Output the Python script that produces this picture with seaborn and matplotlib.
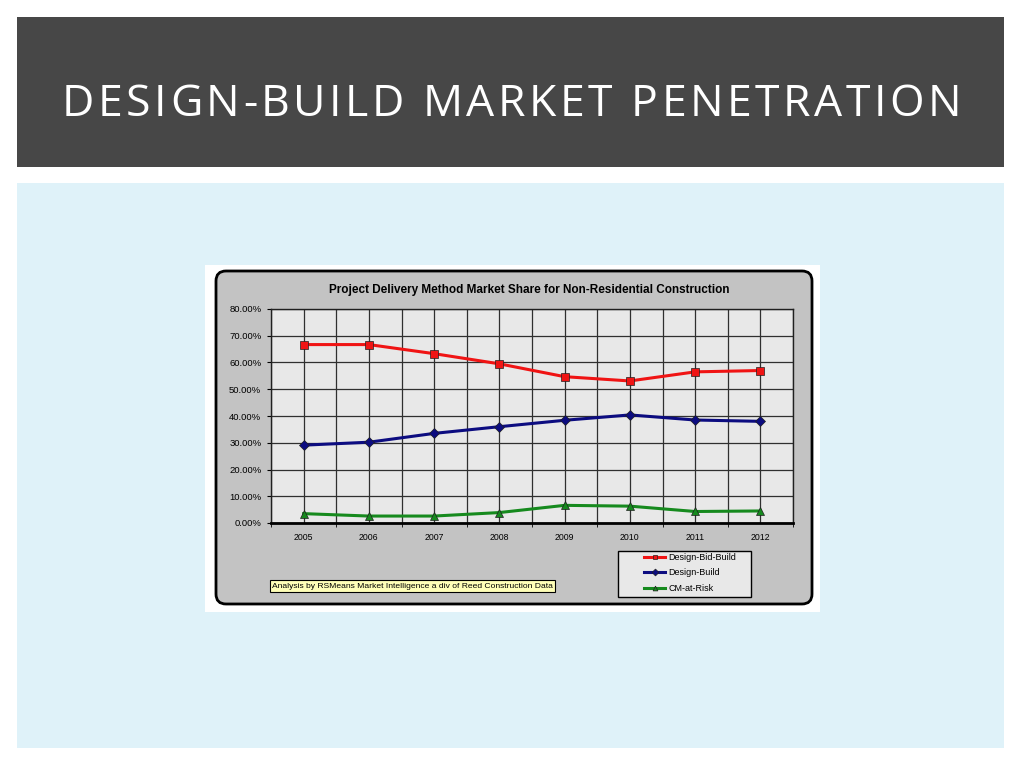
import matplotlib
matplotlib.use("Agg")
import matplotlib.pyplot as plt
from matplotlib.patches import Rectangle, FancyBboxPatch
from matplotlib.ticker import FuncFormatter
import seaborn as sns
import pandas as pd

# values
years = ["2005", "2006", "2007", "2008", "2009", "2010", "2011", "2012"]
design_bid_build = [66.7, 66.7, 63.3, 59.5, 54.7, 53.1, 56.5, 57.0]
design_build = [29.1, 30.2, 33.5, 36.0, 38.4, 40.4, 38.5, 38.0]
cm_at_risk = [3.5, 2.6, 2.6, 3.9, 6.6, 6.3, 4.3, 4.5]
methods = ["Design-Bid-Build", "Design-Build", "CM-at-Risk"]

df = pd.DataFrame({
    "Year": years * 3,
    "Share": design_bid_build + design_build + cm_at_risk,
    "Method": [m for m in methods for _ in years],
})

W, H = 1024, 768
fig = plt.figure(figsize=(10.24, 7.68), dpi=100)
fig.patch.set_facecolor("white")

# slide background drawn in pixel coordinates
bg = fig.add_axes([0, 0, 1, 1], zorder=0)
bg.set_xlim(0, W)
bg.set_ylim(H, 0)
bg.axis("off")
bg.add_patch(Rectangle((17, 17), 987, 150, facecolor="#474747", edgecolor="none"))
bg.add_patch(Rectangle((17, 183), 987, 565, facecolor="#dff2f9", edgecolor="none"))
bg.add_patch(Rectangle((205, 265), 615, 347, facecolor="white", edgecolor="none"))
bg.add_patch(FancyBboxPatch((216, 271), 596, 333,
                            boxstyle="round,pad=0,rounding_size=10",
                            facecolor="#c3c3c3", edgecolor="black", linewidth=2))


def tracked_title(s, left, right, baseline, **kw):
    # slide title with wide letter spacing: place glyphs one by one
    r = fig.canvas.get_renderer()

    def width(t):
        tt = bg.text(0, 0, t, **kw)
        w = tt.get_window_extent(r).width
        tt.remove()
        return w

    starts = []
    for i, ch in enumerate(s):
        starts.append(width(s[:i + 1]) - width(ch) if ch != " " else None)
    natural = width(s)
    track = (right - left - natural) / (len(s) - 1)
    for i, ch in enumerate(s):
        if ch == " ":
            continue
        bg.text(left + starts[i] + track * i, baseline, ch,
                ha="left", va="baseline", **kw)


tracked_title("DESIGN-BUILD MARKET PENETRATION", 62, 961, 116,
              color="white", fontsize=32, family="Open Sans")

# plot area
ax = fig.add_axes([271 / W, 1 - 523 / H, 522 / W, 214 / H], zorder=2)
ax.set_facecolor("#e8e8e8")

palette = {"Design-Bid-Build": "#f01414", "Design-Build": "#0c0c80", "CM-at-Risk": "#168a1e"}
markers = {"Design-Bid-Build": "s", "Design-Build": "D", "CM-at-Risk": "^"}
sns.lineplot(data=df, x="Year", y="Share", hue="Method", style="Method",
             palette=palette, markers=markers, dashes=False, linewidth=2.2,
             markersize=5.5, markeredgecolor="#202020", markeredgewidth=0.5,
             ax=ax, zorder=3)

ax.set_xlim(-0.5, len(years) - 0.5)
ax.set_ylim(0, 80)
ax.set_yticks(range(0, 81, 10))
ax.yaxis.set_major_formatter(FuncFormatter(lambda v, p: f"{v:.2f}%"))
ax.set_xticks(range(len(years)))
ax.set_xticklabels(years)
ax.set_xticks([i + 0.5 for i in range(-1, len(years))], minor=True)
ax.grid(True, which="major", color="#303030", linewidth=0.9, zorder=1)
ax.grid(True, which="minor", axis="x", color="#303030", linewidth=0.9, zorder=1)
ax.set_axisbelow(True)
ax.tick_params(axis="x", which="major", length=0, pad=7, labelsize=6.3,
               labelfontfamily="Liberation Sans")
ax.tick_params(axis="x", which="minor", length=3, direction="out", color="black")
ax.tick_params(axis="y", length=3, direction="out", pad=4, labelsize=6.8,
               labelfontfamily="Liberation Sans")
ax.set_xlabel("")
ax.set_ylabel("")
for side in ["left", "top", "right"]:
    ax.spines[side].set_color("#202020")
    ax.spines[side].set_linewidth(1)
ax.spines["bottom"].set_color("black")
ax.spines["bottom"].set_linewidth(2)

# legend: own frame so the inner padding can be wider than tall
bg.add_patch(Rectangle((618, 551), 133, 46, facecolor="#e8e8e8",
                       edgecolor="black", linewidth=1, zorder=3))
leg = ax.legend(loc="upper left", bbox_to_anchor=(641 / W, 1 - 550 / H),
                bbox_transform=fig.transFigure, borderaxespad=0,
                prop={"family": "Liberation Sans", "size": 6.5},
                handlelength=2.4, handletextpad=0.3, borderpad=0.3,
                labelspacing=0.72, frameon=False)
for h in leg.legend_handles:
    h.set_markersize(3.5)

fig.text(529 / W, 1 - 290 / H,
         "Project Delivery Method Market Share for Non-Residential Construction",
         ha="center", va="center", fontsize=8.5, fontweight="bold",
         family="Liberation Sans")

fig.text(272 / W, 1 - 586 / H,
         "Analysis by RSMeans Market Intelligence a div of Reed Construction Data",
         ha="left", va="center", fontsize=6.1, family="Liberation Sans",
         bbox=dict(boxstyle="square,pad=0.25", facecolor="#ffffb8",
                   edgecolor="black", linewidth=0.8))

fig.savefig("out.png", dpi=100)
